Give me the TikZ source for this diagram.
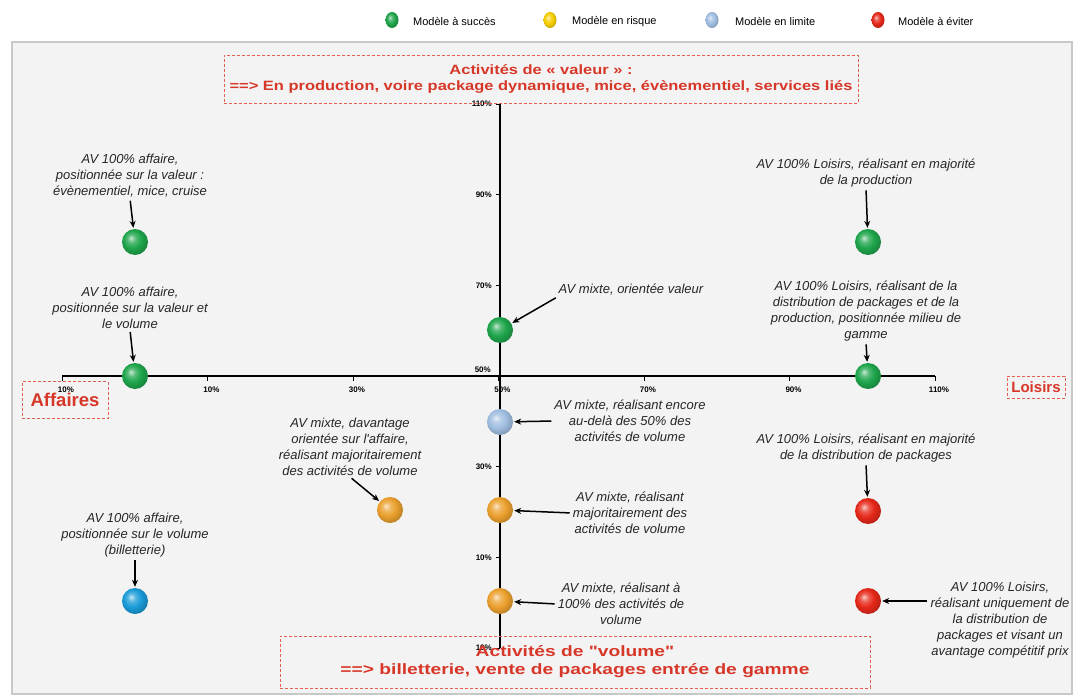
\documentclass[tikz,border=0pt]{standalone}
\usepackage{fontspec}
\usepackage{graphicx}
\setmainfont{Liberation Sans}[Ligatures=TeXOff]
\usetikzlibrary{arrows.meta,shapes.geometric}
\definecolor{modsucces}{RGB}{30,165,75}
\definecolor{modrisque}{RGB}{235,160,45}
\definecolor{modjaune}{RGB}{245,205,0}
\definecolor{modlimite}{RGB}{160,190,225}
\definecolor{modbleu}{RGB}{25,155,215}
\definecolor{modeviter}{RGB}{230,40,25}
\definecolor{zonered}{RGB}{215,55,40}
\definecolor{panelfill}{RGB}{243,243,243}
\definecolor{panelgray}{RGB}{200,200,200}
\makeatletter
\pgfdeclareradialshading[tikz@ball]{gloss}{\pgfqpoint{-8bp}{8bp}}{%
  color(0bp)=(tikz@ball!25!white); color(8bp)=(tikz@ball!75!white);
  color(17bp)=(tikz@ball); color(26bp)=(tikz@ball!85!black);
  color(36bp)=(tikz@ball!65!black); color(50bp)=(tikz@ball!50!black)}
\makeatother
\newcommand{\wide}[2]{\scalebox{#1}[1]{#2}}

\begin{document}
\begin{tikzpicture}[x=1pt,y=-1pt,
  ball/.style={circle,inner sep=0pt,minimum size=26pt,ball color=#1,shading=gloss},
  legball/.style={ellipse,inner sep=0pt,minimum width=13pt,minimum height=16pt,ball color=#1,shading=gloss},
  legtxt/.style={font=\fontsize{11}{12}\selectfont,anchor=west,inner sep=0pt},
  lbl/.style={font=\fontsize{13}{16}\selectfont\itshape,align=center,text=black!85,inner sep=1pt},
  zone/.style={draw=zonered!80,dash pattern=on 3pt off 2pt,line width=0.8pt,text=zonered,align=center},
  tick/.style={font=\fontsize{8}{9}\selectfont\bfseries,inner sep=1pt},
  arr/.style={-{Stealth[length=7pt,width=6pt]},line width=1.5pt,shorten <=2pt,shorten >=1pt}]

  \useasboundingbox (0,0) rectangle (1080,696);
  \draw[draw=panelgray,fill=panelfill,line width=1.2pt] (12,42) rectangle (1072,694);

  %%% legend
  \node[legball=modsucces] (g1) at (392,20) {};
  \node[legtxt] (t1) at (413,22) {Modèle à succès};
  \node[legball=modjaune] (g2) at (550,20) {};
  \node[legtxt] (t2) at (572,22) {Modèle en risque};
  \node[legball=modlimite] (g3) at (712,20) {};
  \node[legtxt] (t3) at (735,22) {Modèle en limite};
  \node[legball=modeviter] (g4) at (878,20) {};
  \node[legtxt] (t4) at (898,22) {Modèle à éviter};

  %%% axes
  \coordinate (xmin) at (62,376);
  \coordinate (xmax) at (935,376);
  \coordinate (ytop) at (500,104);
  \coordinate (ybot) at (500,648);
  \draw[line width=2.6pt] (xmin) -- (xmax);
  \draw[line width=2.6pt] (ybot) -- (ytop);

  \foreach \k/\t in {0/10,1/10,2/30,3/50,4/70,5/90,6/110}{
    \draw[line width=1pt] (62+\k*145.5,376) -- (62+\k*145.5,381);
    \node[tick] (hx\k) at (66+\k*145.5,390) {\t\%};
  }
  \foreach \k/\t in {0/110,1/90,2/70,4/30,5/10,6/10}{
    \draw[line width=1pt] (496,104+\k*90.7) -- (500,104+\k*90.7);
    \node[tick,anchor=east] (vy\k) at (493,104+\k*90.7) {\t\%};
  }
  \node[tick,anchor=east] (vy3) at (492,370) {50\%};

  %%% zones
  \node[zone,minimum width=634pt,minimum height=48pt,
        font=\fontsize{13.5}{16}\selectfont\bfseries] (valeur) at (541,79)
    {\wide{1.22}{Activités de « valeur » :}\\\wide{1.22}{==> En production, voire package dynamique, mice, évènementiel, services liés}};
  \node[zone,minimum width=590pt,minimum height=52pt,
        font=\fontsize{15}{18}\selectfont\bfseries] (volume) at (575,662)
    {\wide{1.28}{Activités de "volume"}\\\wide{1.28}{==> billetterie, vente de packages entrée de gamme}};
  \node[zone,minimum width=86pt,minimum height=37pt,
        font=\fontsize{18.5}{19}\selectfont\bfseries] (affaires) at (65,400) {\raisebox{-5pt}{Affaires}};
  \node[zone,minimum width=58pt,minimum height=22pt,
        font=\fontsize{15}{16}\selectfont\bfseries] (loisirs) at (1036,387) {Loisirs};

  %%% models
  \node[ball=modsucces] (b1) at (135,242) {};
  \node[ball=modsucces] (b2) at (135,376) {};
  \node[ball=modsucces] (b3) at (500,330) {};
  \node[ball=modsucces] (b4) at (868,242) {};
  \node[ball=modsucces] (b5) at (868,376) {};
  \node[ball=modlimite] (b6) at (500,422) {};
  \node[ball=modrisque] (b7) at (390,510) {};
  \node[ball=modrisque] (b8) at (500,510) {};
  \node[ball=modrisque] (b9) at (500,601) {};
  \node[ball=modeviter] (b10) at (868,511) {};
  \node[ball=modeviter] (b11) at (868,601) {};
  \node[ball=modbleu] (b12) at (135,601) {};

  \node[lbl] (l1) at (130,176) {AV 100\% affaire,\\positionnée sur la valeur :\\évènementiel, mice, cruise};
  \node[lbl] (l2) at (130,308) {AV 100\% affaire,\\positionnée sur la valeur et\\le volume};
  \node[lbl] (l3) at (631,290) {AV mixte, orientée valeur};
  \node[lbl] (l4) at (866,173) {AV 100\% Loisirs, réalisant en majorité\\de la production};
  \node[lbl] (l5) at (866,311) {AV 100\% Loisirs, réalisant de la\\distribution de packages et de la\\production, positionnée milieu de\\gamme};
  \node[lbl] (l6) at (630,421) {AV mixte, réalisant encore\\au-delà des 50\% des\\activités de volume};
  \node[lbl] (l7) at (350,447) {AV mixte, davantage\\orientée sur l'affaire,\\réalisant majoritairement\\des activités de volume};
  \node[lbl] (l8) at (630,513) {AV mixte, réalisant\\majoritairement des\\activités de volume};
  \node[lbl] (l9) at (621,604) {AV mixte, réalisant à\\100\% des activités de\\volume};
  \node[lbl] (l10) at (866,448) {AV 100\% Loisirs, réalisant en majorité\\de la distribution de packages};
  \node[lbl] (l11) at (1000,620) {AV 100\% Loisirs,\\réalisant uniquement de\\la distribution de\\packages et visant un\\avantage compétitif prix};
  \node[lbl] (l12) at (135,535) {AV 100\% affaire,\\positionnée sur le volume\\(billetterie)};

  \draw[arr] (l1.south) -- (b1);
  \draw[arr] (l2.south) -- (b2);
  \draw[arr] (l3.south west) -- (b3);
  \draw[arr] (l4.south) -- (b4);
  \draw[arr] (l5.south) -- (b5);
  \draw[arr] (l6.west) -- (b6);
  \draw[arr] (l7.south) -- (b7);
  \draw[arr] (l8.west) -- (b8);
  \draw[arr] (l9.west) -- (b9);
  \draw[arr] (l10.south) -- (b10);
  \draw[arr] (l11.west |- b11) -- (b11);
  \draw[arr] (l12.south) -- (b12);
\end{tikzpicture}
\end{document}
